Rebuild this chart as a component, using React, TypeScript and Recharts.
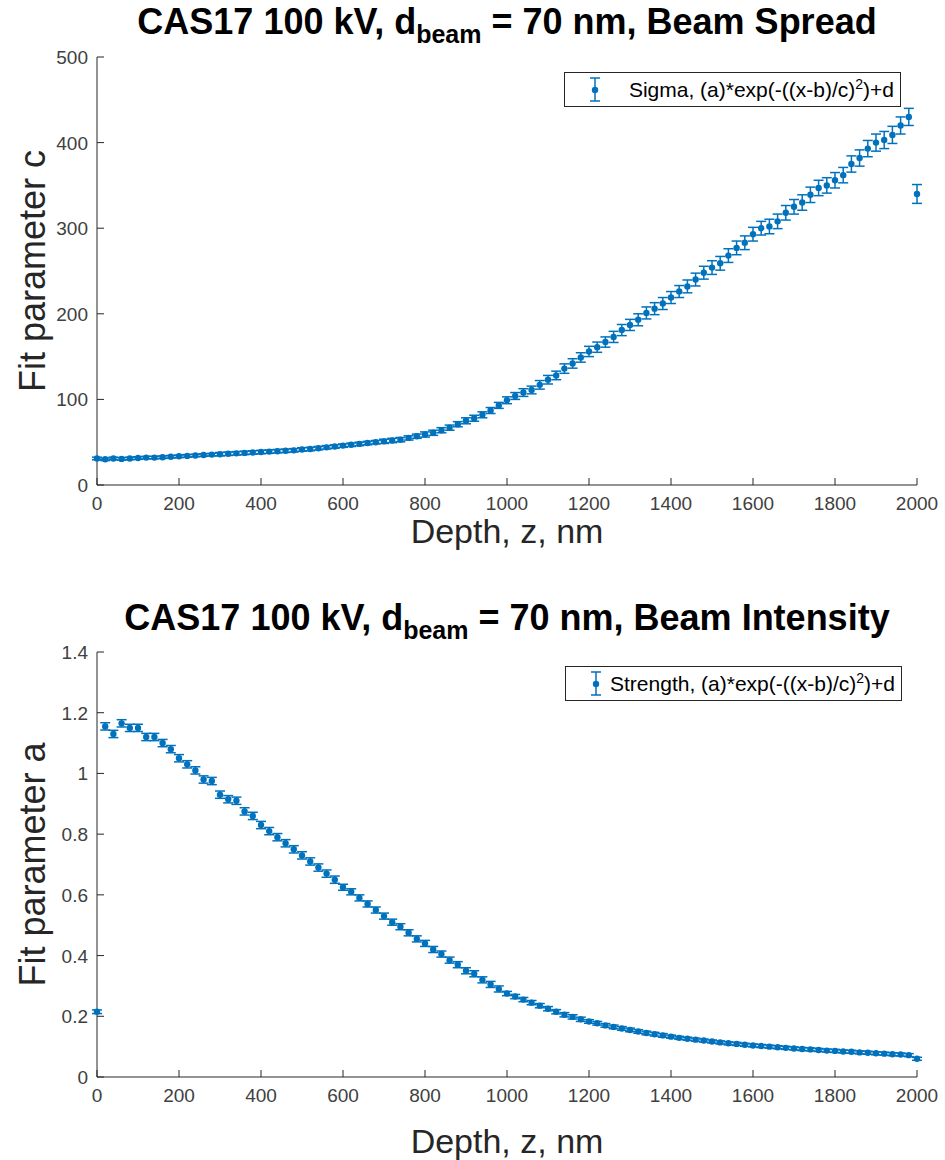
import { ScatterChart, Scatter, XAxis, YAxis, ErrorBar } from 'recharts'

// depth grid of the fit, nm
const DEPTH = [
  0, 20, 40, 60, 80, 100, 120, 140, 160, 180,
  200, 220, 240, 260, 280, 300, 320, 340, 360, 380,
  400, 420, 440, 460, 480, 500, 520, 540, 560, 580,
  600, 620, 640, 660, 680, 700, 720, 740, 760, 780,
  800, 820, 840, 860, 880, 900, 920, 940, 960, 980,
  1000, 1020, 1040, 1060, 1080, 1100, 1120, 1140, 1160, 1180,
  1200, 1220, 1240, 1260, 1280, 1300, 1320, 1340, 1360, 1380,
  1400, 1420, 1440, 1460, 1480, 1500, 1520, 1540, 1560, 1580,
  1600, 1620, 1640, 1660, 1680, 1700, 1720, 1740, 1760, 1780,
  1800, 1820, 1840, 1860, 1880, 1900, 1920, 1940, 1960, 1980,
  2000,
]

// fit parameter c (beam spread)
const SIGMA = [
  31, 30, 31, 30.5, 31, 31.5, 32, 32, 32.5, 33,
  33.5, 34, 34.5, 35, 35.5, 36, 36.5, 37, 37.5, 38,
  38.5, 39, 39.5, 40, 40.5, 41.5, 42, 43, 44, 45,
  46, 47, 48, 49, 50, 51, 52, 53, 55, 57,
  59, 61, 64, 67, 71, 75, 78, 82, 87, 93,
  99, 104, 108, 111, 117, 123, 128, 136, 142, 149,
  156, 161, 167, 173, 181, 187, 193, 201, 206, 212,
  219, 226, 232, 240, 248, 254, 259, 268, 277, 283,
  293, 300, 302, 308, 318, 325, 330, 339, 347, 350,
  356, 362, 375, 382, 393, 400, 403, 409, 420, 430,
  340,
]

const SIGMA_ERR = [
  1.5, 1.5, 1.5, 1.5, 1.5, 1.5, 1.5, 1.5, 1.5, 1.5,
  1.5, 1.5, 1.5, 1.5, 1.5, 2, 2, 2, 2, 2,
  2, 2, 2, 2, 2, 2, 2, 2, 2, 2,
  2, 2, 2, 2, 2, 2.5, 2.5, 2.5, 2.5, 2.5,
  3, 3, 3, 3, 3, 3.5, 3.5, 3.5, 3.5, 3.5,
  4, 4, 4.5, 4.5, 5, 5, 5, 5.5, 5.5, 5.5,
  6, 6, 6, 6.5, 6.5, 6.5, 7, 7, 7, 7,
  7, 7, 7.5, 7.5, 7.5, 8, 8, 8, 8, 8,
  8, 8, 8.5, 8.5, 8.5, 8.5, 9, 9, 9, 9,
  9, 9, 9.5, 9.5, 9.5, 10, 10, 10, 10, 10,
  11,
]

// fit parameter a (beam intensity)
const STRENGTH = [
  0.215, 1.155, 1.13, 1.165, 1.15, 1.15, 1.12, 1.12, 1.1, 1.08,
  1.05, 1.03, 1.01, 0.98, 0.975, 0.93, 0.915, 0.91, 0.875, 0.86,
  0.83, 0.81, 0.79, 0.77, 0.75, 0.73, 0.71, 0.69, 0.67, 0.65,
  0.625, 0.61, 0.59, 0.57, 0.55, 0.53, 0.51, 0.495, 0.475, 0.455,
  0.44, 0.42, 0.405, 0.385, 0.37, 0.35, 0.34, 0.32, 0.305, 0.29,
  0.275, 0.265, 0.255, 0.245, 0.235, 0.225, 0.215, 0.205, 0.198, 0.19,
  0.183, 0.177, 0.17, 0.165, 0.16, 0.155, 0.15, 0.145, 0.141, 0.137,
  0.133, 0.129, 0.126, 0.123, 0.12, 0.117, 0.114, 0.111, 0.109, 0.106,
  0.104, 0.102, 0.1, 0.098, 0.096, 0.094, 0.092, 0.091, 0.089, 0.087,
  0.086, 0.084, 0.083, 0.081, 0.08, 0.078, 0.077, 0.075, 0.074, 0.072,
  0.06,
]

const STRENGTH_ERR = [
  0.006, 0.012, 0.012, 0.012, 0.012, 0.012, 0.012, 0.012, 0.012, 0.012,
  0.012, 0.012, 0.012, 0.012, 0.012, 0.012, 0.012, 0.012, 0.012, 0.012,
  0.012, 0.012, 0.012, 0.012, 0.012, 0.012, 0.012, 0.012, 0.012, 0.012,
  0.01, 0.01, 0.01, 0.01, 0.01, 0.01, 0.01, 0.01, 0.01, 0.01,
  0.01, 0.01, 0.01, 0.01, 0.01, 0.01, 0.01, 0.01, 0.01, 0.01,
  0.007, 0.007, 0.007, 0.007, 0.007, 0.007, 0.007, 0.007, 0.007, 0.007,
  0.006, 0.006, 0.006, 0.006, 0.006, 0.006, 0.006, 0.006, 0.006, 0.006,
  0.005, 0.005, 0.005, 0.005, 0.005, 0.005, 0.005, 0.005, 0.005, 0.005,
  0.005, 0.005, 0.005, 0.005, 0.005, 0.005, 0.005, 0.005, 0.005, 0.005,
  0.005, 0.005, 0.005, 0.005, 0.005, 0.005, 0.005, 0.005, 0.005, 0.005,
  0.005,
]

const X_TICKS = [0, 200, 400, 600, 800, 1000, 1200, 1400, 1600, 1800, 2000]
const SIGMA_TICKS = [0, 100, 200, 300, 400, 500]
const STRENGTH_TICKS = [0, 0.2, 0.4, 0.6, 0.8, 1, 1.2, 1.4]

const BLUE = '#0072BD'
const AXIS = '#262626'
const TICK_TXT = '#404040'
const FONT = '"Liberation Sans", Arial, Helvetica, sans-serif'
const TICK_LEN = 7

const sigmaData = DEPTH.map((x, i) => ({ x, y: SIGMA[i], err: SIGMA_ERR[i] }))
const strengthData = DEPTH.map((x, i) => ({ x, y: STRENGTH[i], err: STRENGTH_ERR[i] }))

const BottomTick = ({ x, y, payload }: any) => (
  <g>
    <line x1={x} x2={x} y1={y} y2={y - TICK_LEN} stroke={AXIS} />
    <text x={x} y={y + 25} textAnchor="middle" fontSize={19} fill={TICK_TXT} fontFamily={FONT}>
      {payload.value}
    </text>
  </g>
)

const TopTick = ({ x, y }: any) => (
  <line x1={x} x2={x} y1={y} y2={y + TICK_LEN} stroke={AXIS} />
)

const LeftTick = ({ x, y, payload }: any) => (
  <g>
    <line x1={x} x2={x + TICK_LEN} y1={y} y2={y} stroke={AXIS} />
    <text x={x - 9} y={y + 7} textAnchor="end" fontSize={19} fill={TICK_TXT} fontFamily={FONT}>
      {payload.value}
    </text>
  </g>
)

const RightTick = ({ x, y }: any) => (
  <line x1={x} x2={x - TICK_LEN} y1={y} y2={y} stroke={AXIS} />
)

const Dot = (props: any) => <circle cx={props.cx} cy={props.cy} r={3.2} fill={BLUE} />

type FitProps = {
  data: { x: number; y: number; err: number }[]
  yDomain: number[]
  yTicks: number[]
  yLabel: string
  height: number
  top: number
  xAxisHeight: number
  xLabelOffset: number
}

function FitChart({ data, yDomain, yTicks, yLabel, height, top, xAxisHeight, xLabelOffset }: FitProps) {
  return (
    <ScatterChart width={945} height={height} margin={{ top, right: 28, bottom: 0, left: 0 }}>
      <XAxis
        xAxisId="b"
        type="number"
        dataKey="x"
        domain={[0, 2000]}
        ticks={X_TICKS}
        interval={0}
        height={xAxisHeight}
        tickSize={0}
        tickMargin={0}
        tickLine={false}
        axisLine={{ stroke: AXIS }}
        tick={<BottomTick />}
        label={{
          value: 'Depth, z, nm',
          position: 'insideBottom',
          offset: xLabelOffset,
          style: { fontSize: 34, fill: AXIS, fontFamily: FONT },
        }}
      />
      <XAxis
        xAxisId="t"
        orientation="top"
        type="number"
        domain={[0, 2000]}
        ticks={X_TICKS}
        interval={0}
        height={0}
        tickSize={0}
        tickMargin={0}
        tickLine={false}
        axisLine={{ stroke: AXIS }}
        tick={<TopTick />}
      />
      <YAxis
        yAxisId="l"
        type="number"
        dataKey="y"
        domain={yDomain}
        ticks={yTicks}
        interval={0}
        width={97}
        tickSize={0}
        tickMargin={0}
        tickLine={false}
        axisLine={{ stroke: AXIS }}
        tick={<LeftTick />}
        label={{
          value: yLabel,
          angle: -90,
          position: 'insideLeft',
          offset: 32,
          style: { fontSize: 36, fill: AXIS, fontFamily: FONT, textAnchor: 'middle' },
        }}
      />
      <YAxis
        yAxisId="r"
        orientation="right"
        type="number"
        domain={yDomain}
        ticks={yTicks}
        interval={0}
        width={0}
        tickSize={0}
        tickMargin={0}
        tickLine={false}
        axisLine={{ stroke: AXIS }}
        tick={<RightTick />}
      />
      <Scatter data={data} xAxisId="b" yAxisId="l" shape={Dot} isAnimationActive={false}>
        <ErrorBar dataKey="err" direction="y" width={5} stroke={BLUE} strokeWidth={1.5} />
      </Scatter>
    </ScatterChart>
  )
}

function Title({ top, text }: { top: number; text: string }) {
  return (
    <div
      style={{
        position: 'absolute',
        left: 97,
        width: 820,
        top,
        textAlign: 'center',
        fontFamily: FONT,
        fontWeight: 'bold',
        fontSize: 36,
        lineHeight: '36px',
        color: '#000',
        whiteSpace: 'nowrap',
      }}
    >
      CAS17 100 kV, d<span style={{ fontSize: 25, position: 'relative', top: 9 }}>beam</span> = 70 nm, {text}
    </div>
  )
}

function LegendBox({ top, left, name }: { top: number; left: number; name: string }) {
  return (
    <div
      style={{
        position: 'absolute',
        top,
        left,
        width: 335,
        height: 33,
        border: `1px solid ${AXIS}`,
        background: '#fff',
        fontFamily: FONT,
        fontSize: 21,
        color: '#000',
      }}
    >
      <svg width={20} height={33} style={{ position: 'absolute', left: 20, top: 0 }}>
        <line x1={10} x2={10} y1={5} y2={28} stroke={BLUE} strokeWidth={1.5} />
        <line x1={5} x2={15} y1={5} y2={5} stroke={BLUE} strokeWidth={1.5} />
        <line x1={5} x2={15} y1={28} y2={28} stroke={BLUE} strokeWidth={1.5} />
        <circle cx={10} cy={17} r={3.2} fill={BLUE} />
      </svg>
      <span style={{ position: 'absolute', right: 6, top: 3, whiteSpace: 'nowrap' }}>
        {name}, (a)*exp(-((x-b)/c)<sup style={{ fontSize: 14 }}>2</sup>)+d
      </span>
    </div>
  )
}

export default function App() {
  return (
    <div style={{ position: 'absolute', left: 0, top: 0, width: 945, height: 1160, background: '#fff' }}>
      <Title top={4} text="Beam Spread" />
      <FitChart
        data={sigmaData}
        yDomain={[0, 500]}
        yTicks={SIGMA_TICKS}
        yLabel="Fit parameter c"
        height={570}
        top={57}
        xAxisHeight={85}
        xLabelOffset={27}
      />
      <LegendBox top={72} left={564} name="Sigma" />
      <Title top={600} text="Beam Intensity" />
      <div style={{ position: 'absolute', left: 0, top: 570 }}>
        <FitChart
          data={strengthData}
          yDomain={[0, 1.4]}
          yTicks={STRENGTH_TICKS}
          yLabel="Fit parameter a"
          height={590}
          top={82}
          xAxisHeight={83}
          xLabelOffset={7}
        />
      </div>
      <LegendBox top={666} left={565} name="Strength" />
    </div>
  )
}
